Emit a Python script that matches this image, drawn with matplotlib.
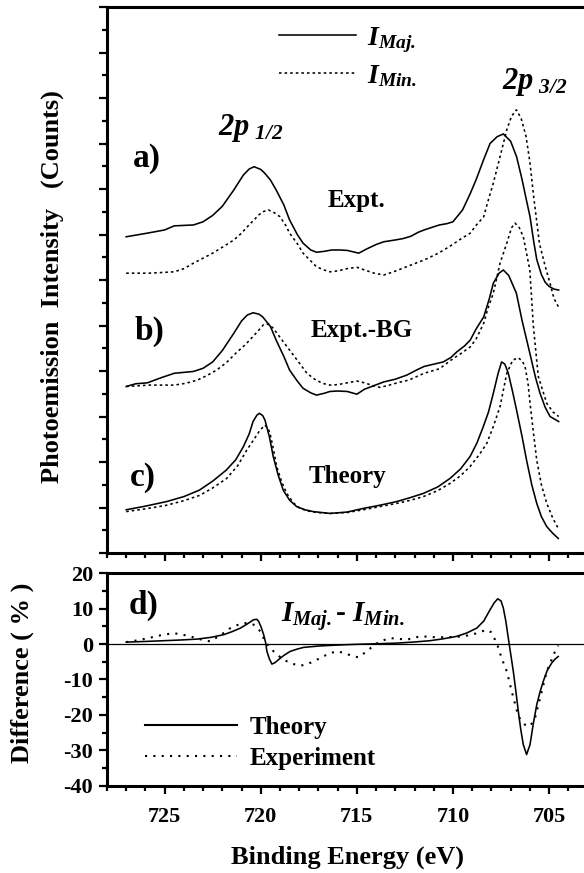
import matplotlib
matplotlib.use('Agg')
import matplotlib.pyplot as plt
from matplotlib.ticker import MultipleLocator
from matplotlib.lines import Line2D

plt.rcParams['font.family'] = ['Liberation Serif', 'DejaVu Serif']
plt.rcParams['font.weight'] = 'bold'
plt.rcParams['axes.unicode_minus'] = False
plt.rcParams['mathtext.fontset'] = 'custom'
plt.rcParams['mathtext.rm'] = 'Liberation Serif:bold:italic'
plt.rcParams['mathtext.it'] = 'Liberation Serif:bold:italic'
plt.rcParams['mathtext.bf'] = 'Liberation Serif:bold'

# ---------------- data (binding energy in eV, intensity in arb. units) ----------------
e_a_maj = [727.0, 725.9, 725.0, 724.5, 723.5, 723.0, 722.5, 722.0, 721.4, 720.9, 720.6, 720.35, 720.0,
           719.8, 719.5, 719.2, 718.8, 718.5, 718.1, 717.8, 717.4, 717.1, 716.7, 716.3, 715.9, 715.5,
           715.2, 714.9, 714.5, 714.0, 713.6, 713.0, 712.6, 712.2, 711.8, 711.5, 711.0, 710.7, 710.3,
           710.0, 709.5, 709.1, 708.8, 708.4, 708.07, 707.7, 707.38, 707.0, 706.69, 706.4, 706.2, 705.99,
           705.8, 705.64, 705.4, 705.2, 705.0, 704.75, 704.5]
v_a_maj = [6.95, 7.03, 7.10, 7.19, 7.21, 7.28, 7.42, 7.62, 7.98, 8.31, 8.44, 8.49, 8.43,
           8.35, 8.20, 7.98, 7.65, 7.32, 7.00, 6.81, 6.66, 6.61, 6.63, 6.66, 6.66, 6.65,
           6.62, 6.59, 6.68, 6.78, 6.84, 6.88, 6.91, 6.96, 7.05, 7.10, 7.17, 7.21, 7.24,
           7.28, 7.54, 7.90, 8.20, 8.65, 9.00, 9.15, 9.21, 9.05, 8.71, 8.20, 7.80, 7.39,
           6.85, 6.45, 6.12, 5.95, 5.86, 5.80, 5.78]

e_a_min = [727.0, 725.8, 724.5, 724.0, 723.5, 723.0, 722.5, 722.0, 721.4, 721.0, 720.7, 720.1, 719.9,
           719.6, 719.3, 719.0, 718.7, 718.5, 718.1, 717.8, 717.4, 717.1, 716.7, 716.4, 716.0, 715.5,
           715.0, 714.6, 714.1, 713.6, 713.1, 712.6, 712.0, 711.5, 710.8, 710.2, 709.6, 709.1, 708.8,
           708.4, 708.2, 707.9, 707.55, 707.2, 706.95, 706.7, 706.45, 706.2, 706.0, 705.8, 705.5,
           705.2, 704.95, 704.75, 704.5]
v_a_min = [6.15, 6.15, 6.18, 6.25, 6.37, 6.48, 6.59, 6.72, 6.88, 7.03, 7.17, 7.43, 7.50,
           7.54, 7.48, 7.39, 7.20, 7.03, 6.80, 6.59, 6.42, 6.29, 6.22, 6.18, 6.20, 6.25,
           6.28, 6.22, 6.15, 6.11, 6.18, 6.26, 6.36, 6.44, 6.58, 6.73, 6.90, 7.03, 7.20,
           7.39, 7.70, 8.13, 8.71, 9.30, 9.60, 9.74, 9.55, 9.16, 8.60, 7.83, 6.80,
           6.30, 5.93, 5.60, 5.40]

e_b_maj = [727.0, 726.5, 725.9, 725.2, 724.5, 723.5, 723.0, 722.5, 722.0, 721.4, 721.0, 720.7, 720.4,
           720.1, 719.9, 719.5, 719.2, 718.8, 718.5, 718.1, 717.8, 717.4, 717.1, 716.7, 716.4, 716.0,
           715.5, 715.0, 714.6, 714.1, 713.6, 713.0, 712.4, 711.9, 711.5, 711.0, 710.5, 710.1, 709.8,
           709.4, 709.1, 708.8, 708.4, 708.1, 707.9, 707.6, 707.38, 707.1, 706.7, 706.4, 706.0, 705.7,
           705.47, 705.2, 704.95, 704.5]
v_b_maj = [3.66, 3.72, 3.74, 3.85, 3.95, 3.99, 4.06, 4.20, 4.45, 4.83, 5.10, 5.23, 5.28,
           5.25, 5.19, 4.98, 4.68, 4.32, 4.02, 3.78, 3.62, 3.52, 3.47, 3.51, 3.55, 3.56,
           3.55, 3.49, 3.60, 3.68, 3.76, 3.82, 3.91, 4.02, 4.10, 4.15, 4.20, 4.30, 4.42,
           4.55, 4.68, 4.92, 5.19, 5.60, 5.93, 6.15, 6.22, 6.10, 5.71, 5.10, 4.39, 3.85,
           3.51, 3.20, 3.00, 2.89]

e_b_min = [727.0, 725.8, 724.5, 723.9, 723.3, 722.8, 722.3, 721.8, 721.3, 720.8, 720.4, 720.1, 719.85,
           719.6, 719.35, 719.0, 718.5, 718.0, 717.6, 717.2, 716.8, 716.4, 716.0, 715.5, 715.0, 714.6,
           714.1, 713.8, 713.4, 712.9, 712.3, 711.5, 710.7, 710.1, 709.6, 709.1, 708.8, 708.4, 708.2,
           707.9, 707.55, 707.2, 706.95, 706.77, 706.55, 706.34, 706.0, 705.82, 705.56, 705.12,
           704.8, 704.5]
v_b_min = [3.66, 3.69, 3.69, 3.73, 3.80, 3.90, 4.02, 4.18, 4.39, 4.58, 4.76, 4.90, 5.02,
           5.03, 4.94, 4.74, 4.46, 4.18, 3.95, 3.82, 3.73, 3.69, 3.70, 3.74, 3.78, 3.74,
           3.67, 3.64, 3.68, 3.74, 3.80, 3.95, 4.05, 4.24, 4.38, 4.53, 4.70, 5.05, 5.35,
           5.71, 6.37, 6.81, 7.15, 7.25, 7.15, 6.95, 6.22, 5.00, 3.88, 3.29,
           3.10, 3.00]

e_c_maj = [727.0, 726.0, 724.9, 724.0, 723.2, 722.5, 721.8, 721.3, 720.9, 720.6, 720.4, 720.2, 720.07,
           719.9, 719.78, 719.55, 719.35, 719.1, 718.83, 718.5, 718.13, 717.7, 717.27, 716.4, 715.5,
           714.67, 713.8, 712.93, 712.2, 711.54, 710.8, 710.15, 709.6, 709.11, 708.75, 708.42, 708.15,
           707.9, 707.65, 707.47, 707.3, 707.12, 706.9, 706.69, 706.4, 706.17, 705.9, 705.64, 705.4,
           705.12, 704.8, 704.52]
v_c_maj = [0.95, 1.03, 1.13, 1.24, 1.38, 1.58, 1.82, 2.05, 2.34, 2.62, 2.89, 3.03, 3.07,
           3.02, 2.92, 2.55, 2.12, 1.72, 1.38, 1.16, 1.02, 0.95, 0.91, 0.87, 0.90,
           0.98, 1.05, 1.13, 1.22, 1.31, 1.45, 1.64, 1.85, 2.12, 2.42, 2.78, 3.10,
           3.51, 3.95, 4.20, 4.15, 3.95, 3.55, 3.14, 2.55, 2.04, 1.50, 1.09, 0.80,
           0.58, 0.43, 0.32]

e_c_min = [727.0, 726.0, 724.9, 724.0, 723.16, 722.5, 721.77, 721.2, 720.73, 720.35, 720.04, 719.78,
           719.6, 719.52, 719.35, 719.17, 718.9, 718.65, 718.3, 717.96, 717.5, 717.09, 716.4, 715.5,
           714.67, 713.8, 712.93, 712.2, 711.54, 710.8, 710.15, 709.6, 709.11, 708.6, 708.24, 707.9,
           707.55, 707.2, 706.89, 706.6, 706.4, 706.25, 706.1, 705.99, 705.8, 705.64, 705.4, 705.12,
           704.8, 704.52]
v_c_min = [0.91, 0.97, 1.05, 1.15, 1.27, 1.43, 1.64, 1.92, 2.26, 2.50, 2.70, 2.81,
           2.72, 2.63, 2.30, 1.90, 1.55, 1.31, 1.10, 0.98, 0.92, 0.89, 0.87, 0.89,
           0.95, 1.02, 1.09, 1.16, 1.24, 1.37, 1.53, 1.70, 1.90, 2.18, 2.41, 2.78,
           3.22, 3.95, 4.24, 4.29, 4.22, 4.10, 3.75, 3.29, 2.60, 2.04, 1.50, 1.09,
           0.76, 0.54]

# difference (%)
e_d_th = [727.0, 726.0, 725.05, 724.2, 723.32, 722.6, 721.93, 721.5, 721.06, 720.7, 720.37, 720.2,
          720.11, 719.98, 719.85, 719.75, 719.68, 719.55, 719.42, 719.25, 719.08, 718.8, 718.47, 718.1,
          717.77, 717.0, 716.38, 715.5, 714.67, 713.8, 712.93, 712.0, 711.2, 710.5, 709.81, 709.3,
          708.76, 708.4, 708.07, 707.85, 707.67, 707.5, 707.38, 707.25, 707.12, 706.99, 706.86, 706.73,
          706.6, 706.47, 706.34, 706.17, 705.99, 705.82, 705.64, 705.47, 705.3, 705.1, 704.87, 704.7,
          704.52]
d_th = [0.56, 0.75, 0.96, 1.15, 1.41, 1.90, 2.66, 3.50, 4.52, 5.70, 6.89, 7.00,
        6.41, 4.80, 2.66, 0.50, -2.06, -4.20, -5.65, -5.20, -4.41, -3.20, -2.06, -1.40,
        -0.93, -0.55, -0.37, -0.15, 0.00, 0.12, 0.28, 0.60, 0.96, 1.50, 2.18, 3.10,
        4.52, 6.50, 9.70, 11.70, 12.80, 12.20, 10.20, 6.50, 1.70, -3.00, -7.70, -13.20,
        -19.00, -24.20, -28.40, -31.20, -28.40, -22.50, -17.10, -13.50, -10.50, -7.50, -5.40, -4.30,
        -3.50]

e_d_ex = [727.0, 726.5, 725.92, 725.2, 724.53, 724.1, 723.67, 723.1, 722.63, 722.1, 721.58, 721.2,
          720.89, 720.6, 720.37, 720.2, 720.02, 719.77, 719.55, 719.33, 719.05, 718.81, 718.4, 717.94,
          717.6, 717.25, 716.8, 716.38, 716.0, 715.7, 715.3, 714.92, 714.49, 714.1, 713.8, 713.28,
          712.85, 712.41, 711.72, 711.3, 710.85, 710.1, 709.46, 708.8, 708.24, 708.0, 707.9, 707.72,
          707.47, 707.2, 706.94, 706.6, 706.25, 705.99, 705.73, 705.47, 705.12, 704.69, 704.52]
d_ex = [0.56, 1.00, 1.60, 2.50, 3.10, 2.70, 2.18, 1.30, 0.76, 2.50, 4.52, 5.40,
        5.93, 5.90, 5.48, 4.60, 3.59, 0.76, -0.80, -2.06, -3.40, -4.41, -5.50, -6.10,
        -5.70, -4.89, -3.60, -2.54, -2.00, -2.50, -3.20, -3.76, -2.06, -0.30, 0.76, 1.70,
        1.50, 1.24, 2.18, 2.10, 1.90, 2.00, 2.18, 3.00, 4.07, 3.30, 2.18, 0.28,
        -3.95, -7.70, -13.40, -20.40, -22.80, -23.20, -20.90, -15.30, -7.70, -2.06, -0.40]

x_major = [725, 720, 715, 710, 705]

# ---------------- figure ----------------
W, H = 584, 873
fig = plt.figure(figsize=(W / 100, H / 100), dpi=100)


def rect(l, t, r, b):
    return [l / W, 1 - b / H, (r - l) / W, (b - t) / H]


ax1 = fig.add_axes(rect(107, 7, 587.5, 553))
ax2 = fig.add_axes(rect(107, 573.3, 587.5, 785.7))

lw = 1.15
dot_up = (0, (1.6, 1.9))
ax1.plot(e_a_maj, v_a_maj, color='black', lw=lw)
ax1.plot(e_a_min, v_a_min, color='black', lw=lw, ls=dot_up)
ax1.plot(e_b_maj, v_b_maj, color='black', lw=lw)
ax1.plot(e_b_min, v_b_min, color='black', lw=lw, ls=dot_up)
ax1.plot(e_c_maj, v_c_maj, color='black', lw=lw)
ax1.plot(e_c_min, v_c_min, color='black', lw=lw, ls=dot_up)

ax2.axhline(0, color='black', lw=0.9)
ax2.plot(e_d_th, d_th, color='black', lw=lw)
ax2.plot(e_d_ex, d_ex, color='black', lw=1.5, ls=(0, (1, 3)))

for ax in (ax1, ax2):
    ax.set_xlim(728, 703)
    ax.xaxis.set_major_locator(MultipleLocator(5))
    ax.xaxis.set_minor_locator(MultipleLocator(1))
    ax.spines['right'].set_visible(False)
    for s in ('left', 'top', 'bottom'):
        ax.spines[s].set_linewidth(2.2)
    ax.tick_params(which='both', direction='out', top=False, right=False, width=1.6)
    ax.tick_params(which='major', length=6)
    ax.tick_params(which='minor', length=3.5)

ax1.set_ylim(0, 12)
ax1.yaxis.set_major_locator(MultipleLocator(1))
ax1.yaxis.set_minor_locator(MultipleLocator(0.5))
ax1.tick_params(labelbottom=False, labelleft=False)

ax2.set_ylim(-40, 20)
ax2.yaxis.set_major_locator(MultipleLocator(10))
ax2.yaxis.set_minor_locator(MultipleLocator(5))
ax2.set_xticks(x_major)
ax2.set_xticklabels([str(v) for v in x_major])
ax2.tick_params(axis='x', which='major', labelsize=16, pad=9)
ax2.tick_params(axis='y', which='major', labelsize=16, pad=4)
for lab in ax2.get_xticklabels() + ax2.get_yticklabels():
    lab.set_fontweight('bold')

# labels
fig.text(52 / W, 1 - 286.5 / H, 'Photoemission  Intensity   (Counts)', rotation=90,
         ha='center', va='center', fontsize=19, fontweight='bold')
fig.text(22 / W, 1 - 672.7 / H, 'Difference ( % )', rotation=90,
         ha='center', va='center', fontsize=19, fontweight='bold')
fig.text(347.5 / W, 1 - 857 / H, 'Binding Energy (eV)', ha='center', va='center',
         fontsize=19, fontweight='bold')

# panel annotations
ax1.text(726.65, 8.68, 'a)', fontsize=24, fontweight='bold', ha='left', va='center')
ax1.text(726.54, 4.88, 'b)', fontsize=24, fontweight='bold', ha='left', va='center')
ax1.text(726.8, 1.67, 'c)', fontsize=24, fontweight='bold', ha='left', va='center')
ax2.text(726.87, 10.9, 'd)', fontsize=24, fontweight='bold', ha='left', va='center')
ax1.text(715.0, 7.74, 'Expt.', fontsize=18, fontweight='bold', ha='center', va='center')
ax1.text(714.73, 4.88, 'Expt.-BG', fontsize=18, fontweight='bold', ha='center', va='center')
ax1.text(715.51, 1.69, 'Theory', fontsize=18, fontweight='bold', ha='center', va='center')
ax1.text(722.22, 9.19, r'$2p_{\ 1/2}$', fontsize=22, ha='left', va='baseline')
ax1.text(707.45, 10.2, r'$2p_{\ 3/2}$', fontsize=22, ha='left', va='baseline')
ax2.text(718.95, 6.4, r'$I_{Maj.}$- $I_{Min.}$', fontsize=21, ha='left', va='baseline')

# legends
h1 = [Line2D([], [], color='black', lw=lw), Line2D([], [], color='black', lw=lw, ls=dot_up)]
leg1 = ax1.legend(h1, [r'$I_{Maj.}$', r'$I_{Min.}$'], loc='upper left',
                  bbox_to_anchor=(0.358, 0.967), frameon=False, fontsize=20,
                  handlelength=2.77, handletextpad=0.4, labelspacing=0.3,
                  borderpad=0, borderaxespad=0)

h2 = [Line2D([], [], color='black', lw=1.5), Line2D([], [], color='black', lw=1.5, ls=(0, (1, 3)))]
leg2 = ax2.legend(h2, ['Theory', 'Experiment'], loc='upper left',
                  bbox_to_anchor=(0.079, 0.33), frameon=False,
                  prop={'size': 18, 'weight': 'bold'},
                  handlelength=3.7, handletextpad=0.48, labelspacing=0.33,
                  borderpad=0, borderaxespad=0)

fig.savefig('out.png', dpi=100)
